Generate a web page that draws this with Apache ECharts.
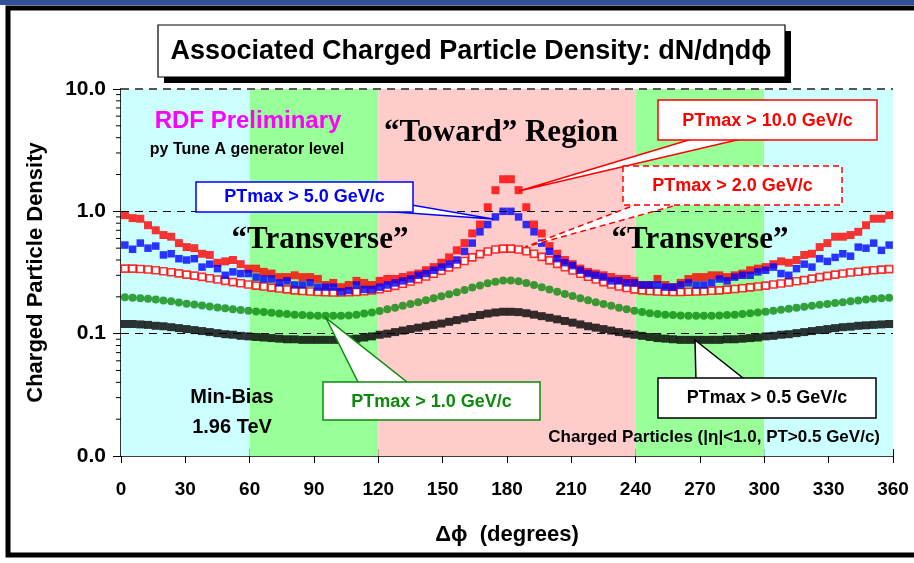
<!DOCTYPE html>
<html>
<head>
<meta charset="utf-8">
<script src="https://cdn.jsdelivr.net/npm/echarts@6/dist/echarts.min.js"></script>
<style>
html,body{margin:0;padding:0;background:#fff;}
#chart{width:914px;height:563px;}
</style>
</head>
<body>
<div id="chart"></div>
<script>
// Bin centres (degrees)
const phi = [1.8,5.4,9,12.6,16.2,19.8,23.4,27,30.6,34.2,37.8,41.4,45,48.6,52.2,55.8,59.4,63,66.6,70.2,
73.8,77.4,81,84.6,88.2,91.8,95.4,99,102.6,106.2,109.8,113.4,117,120.6,124.2,127.8,131.4,135,138.6,142.2,
145.8,149.4,153,156.6,160.2,163.8,167.4,171,174.6,178.2,181.8,185.4,189,192.6,196.2,199.8,203.4,207,210.6,214.2,
217.8,221.4,225,228.6,232.2,235.8,239.4,243,246.6,250.2,253.8,257.4,261,264.6,268.2,271.8,275.4,279,282.6,286.2,
289.8,293.4,297,300.6,304.2,307.8,311.4,315,318.6,322.2,325.8,329.4,333,336.6,340.2,343.8,347.4,351,354.6,358.2];

// PTmax > 0.5 GeV/c (black squares)
const dens05 = [0.120,0.120,0.119,0.118,0.116,0.115,0.113,0.111,0.109,0.107,
0.105,0.103,0.101,0.099,0.098,0.096,0.095,0.094,0.093,0.092,
0.091,0.090,0.090,0.089,0.089,0.089,0.089,0.089,0.089,0.090,
0.091,0.093,0.095,0.098,0.100,0.103,0.106,0.109,0.112,0.115,
0.118,0.121,0.125,0.129,0.133,0.137,0.142,0.146,0.149,0.151,
0.151,0.150,0.147,0.143,0.139,0.135,0.131,0.127,0.123,0.119,
0.115,0.112,0.109,0.106,0.103,0.100,0.098,0.096,0.094,0.092,
0.091,0.090,0.089,0.089,0.089,0.089,0.089,0.089,0.090,0.090,
0.091,0.092,0.093,0.095,0.096,0.098,0.099,0.101,0.103,0.105,
0.107,0.109,0.111,0.113,0.114,0.116,0.117,0.118,0.119,0.120];

// PTmax > 1.0 GeV/c (green dots)
const dens1 = [0.198,0.197,0.195,0.193,0.190,0.187,0.184,0.180,0.176,0.173,
0.170,0.167,0.164,0.161,0.158,0.156,0.154,0.152,0.150,0.148,
0.146,0.145,0.143,0.142,0.141,0.140,0.140,0.140,0.140,0.141,
0.143,0.146,0.149,0.153,0.158,0.163,0.169,0.175,0.181,0.188,
0.195,0.202,0.210,0.218,0.228,0.238,0.248,0.258,0.266,0.272,
0.272,0.268,0.260,0.250,0.240,0.230,0.220,0.211,0.203,0.195,
0.188,0.181,0.175,0.169,0.163,0.158,0.154,0.150,0.147,0.145,
0.143,0.142,0.141,0.140,0.140,0.140,0.140,0.141,0.142,0.143,
0.145,0.147,0.149,0.151,0.154,0.157,0.160,0.163,0.166,0.169,
0.172,0.175,0.178,0.181,0.184,0.187,0.190,0.193,0.195,0.197];

// PTmax > 2.0 GeV/c (red open squares)
const dens2 = [0.340,0.340,0.338,0.335,0.330,0.324,0.318,0.311,0.304,0.298,
0.291,0.284,0.277,0.270,0.264,0.258,0.252,0.247,0.243,0.238,
0.234,0.230,0.226,0.223,0.221,0.219,0.218,0.217,0.217,0.218,
0.219,0.222,0.226,0.231,0.238,0.246,0.256,0.267,0.279,0.293,
0.309,0.327,0.347,0.369,0.393,0.420,0.447,0.470,0.487,0.496,
0.496,0.488,0.472,0.450,0.424,0.397,0.372,0.349,0.328,0.309,
0.292,0.277,0.264,0.252,0.243,0.236,0.230,0.226,0.223,0.221,
0.220,0.219,0.219,0.220,0.221,0.222,0.224,0.226,0.229,0.232,
0.235,0.239,0.243,0.247,0.252,0.257,0.262,0.268,0.274,0.282,
0.290,0.297,0.304,0.310,0.316,0.321,0.326,0.330,0.334,0.337];

// PTmax > 5.0 GeV/c (blue squares)
const dens5 = [0.53,0.49,0.55,0.50,0.52,0.44,0.45,0.41,0.40,0.41,
0.35,0.37,0.34,0.30,0.32,0.31,0.31,0.29,0.28,0.28,
0.26,0.27,0.25,0.25,0.26,0.24,0.24,0.24,0.22,0.225,
0.25,0.23,0.23,0.24,0.25,0.26,0.27,0.28,0.30,0.31,
0.33,0.35,0.37,0.40,0.47,0.55,0.68,0.78,0.90,1.00,
1.00,0.90,0.78,0.68,0.55,0.47,0.41,0.38,0.36,0.33,
0.31,0.30,0.29,0.27,0.27,0.26,0.26,0.25,0.25,0.25,
0.24,0.24,0.25,0.26,0.25,0.25,0.26,0.28,0.27,0.29,
0.30,0.30,0.32,0.33,0.35,0.31,0.30,0.34,0.37,0.35,
0.41,0.39,0.42,0.45,0.43,0.51,0.50,0.55,0.48,0.53];

// PTmax > 10.0 GeV/c (red filled squares)
const dens10 = [0.93,0.88,0.87,0.77,0.70,0.64,0.62,0.55,0.51,0.50,
0.45,0.44,0.38,0.39,0.40,0.37,0.34,0.34,0.32,0.31,
0.29,0.29,0.30,0.29,0.29,0.28,0.25,0.26,0.24,0.25,
0.27,0.26,0.25,0.27,0.28,0.28,0.29,0.30,0.31,0.33,
0.35,0.38,0.42,0.48,0.55,0.66,0.78,1.08,1.49,1.83,
1.83,1.49,1.08,0.78,0.66,0.52,0.45,0.40,0.37,0.34,
0.32,0.31,0.30,0.29,0.28,0.28,0.27,0.25,0.25,0.28,
0.25,0.24,0.26,0.28,0.29,0.29,0.30,0.30,0.29,0.30,
0.31,0.33,0.34,0.35,0.37,0.39,0.38,0.40,0.44,0.45,
0.51,0.55,0.62,0.62,0.64,0.68,0.77,0.87,0.87,0.93];

// Region bands [from, to, colour]
const regions = [[0,60,'#ccffff'],[60,120,'#99ff99'],[120,240,'#ffcccc'],[240,300,'#99ff99'],[300,360,'#ccffff']];
const yMajorTicks = [0.1,1,10];
const yMinorTicks = [0.02,0.03,0.04,0.05,0.06,0.07,0.08,0.09,0.2,0.3,0.4,0.5,0.6,0.7,0.8,0.9,2,3,4,5,6,7,8,9];

const FF = "'Liberation Sans', Arial, sans-serif";
const SERIF = "'Liberation Serif', 'Times New Roman', serif";

function pts(arr){ return phi.map((p,i)=>[p,arr[i]]); }

const chart = echarts.init(document.getElementById('chart'), null, {renderer:'canvas'});

const option = {
  animation:false,
  backgroundColor:'#ffffff',
  grid:{left:121,right:21,top:89,bottom:107},
  xAxis:[{
    type:'value',min:0,max:360,interval:30,
    axisLine:{lineStyle:{color:'#000',width:1.5}},
    axisTick:{length:7,lineStyle:{color:'#000',width:1}},
    axisLabel:{margin:24,color:'#000',fontFamily:FF,fontWeight:'bold',fontSize:19},
    splitLine:{show:false},
    name:'\u0394\u03d5  (degrees)',nameLocation:'middle',nameGap:68,
    nameTextStyle:{color:'#000',fontFamily:FF,fontWeight:'bold',fontSize:22}
  },{
    type:'value',min:0,max:360,interval:30,position:'bottom',
    axisLine:{show:false},axisTick:{show:true,inside:true,length:7,lineStyle:{color:'#000'}},
    axisLabel:{show:false},splitLine:{show:false}
  }],
  yAxis:[{
    type:'log',logBase:10,min:0.01,max:10,
    axisLine:{show:true,lineStyle:{color:'#000',width:1.5}},
    axisTick:{show:true,length:8,lineStyle:{color:'#000'}},
    axisLabel:{margin:15,color:'#000',fontFamily:FF,fontWeight:'bold',fontSize:21,
      formatter:v=>Number(v).toFixed(1)},
    splitLine:{show:false},
    name:'Charged Particle Density',nameLocation:'middle',nameGap:74,nameRotate:90,
    nameTextStyle:{color:'#000',fontFamily:FF,fontWeight:'bold',fontSize:22}
  },{
    type:'log',logBase:10,min:0.01,max:10,position:'right',
    axisLine:{show:true,lineStyle:{color:'#333',width:2}},
    axisTick:{show:false},axisLabel:{show:false},splitLine:{show:false}
  }],
  series:[
    {
      type:'line',data:[],silent:true,
      markArea:{silent:true,data:regions.map(r=>[{xAxis:r[0],itemStyle:{color:r[2]}},{xAxis:r[1]}])},
      markLine:{silent:true,symbol:'none',label:{show:false},
        data:yMajorTicks.map(v=>({yAxis:v,lineStyle:{color:v===10?'#555':'#000',type:[8,6],width:v===10?2:1}}))},
      z:1
    },
    {
      type:'custom',silent:true,clip:false,z:5,
      data:yMinorTicks.map(v=>[0,v]),
      renderItem:function(params,api){
        const p = api.coord([0,api.value(1)]);
        return {type:'line',shape:{x1:p[0]-5,y1:p[1],x2:p[0],y2:p[1]},style:{stroke:'#000',lineWidth:1}};
      }
    },
    {name:'PTmax > 0.5',type:'scatter',symbol:'rect',symbolSize:8,data:pts(dens05),
      itemStyle:{color:'#000'},z:3},
    {name:'PTmax > 1.0',type:'scatter',symbol:'circle',symbolSize:8,data:pts(dens1),
      itemStyle:{color:'#0b8a0b'},z:3},
    {name:'PTmax > 2.0',type:'scatter',symbol:'rect',symbolSize:7,data:pts(dens2),
      itemStyle:{color:'#ffffff',borderColor:'#ff0000',borderWidth:1.6},z:3},
    {name:'PTmax > 10.0',type:'scatter',symbol:'rect',symbolSize:8,data:pts(dens10),
      itemStyle:{color:'#ff0000'},z:3},
    {name:'PTmax > 5.0',type:'scatter',symbol:'rect',symbolSize:7.5,data:pts(dens5),
      itemStyle:{color:'#0000ff'},z:3}
  ],
  graphic:[
    // slide strip + frame
    {type:'rect',shape:{x:0,y:0,width:914,height:5},style:{fill:'#33509a'},z:100},
    {type:'rect',shape:{x:8,y:8,width:1000,height:547},style:{fill:null,stroke:'#000',lineWidth:5},z:100},
    // title box with shadow
    {type:'rect',shape:{x:164,y:31,width:627,height:52},style:{fill:'#000'},z:100},
    {type:'rect',shape:{x:158,y:25,width:627,height:52},style:{fill:'#fff',stroke:'#000',lineWidth:1.2},z:101},
    {type:'text',x:471,y:52,style:{text:'Associated Charged Particle Density: dN/d\u03b7d\u03d5',fill:'#000',
      font:"bold 27px "+FF,textAlign:'center',textVerticalAlign:'middle'},z:102},
    // free texts
    {type:'text',x:248,y:121,style:{text:'RDF Preliminary',fill:'#ff00ff',font:"bold 24px "+FF,textAlign:'center',textVerticalAlign:'middle'},z:50},
    {type:'text',x:247,y:150,style:{text:'py Tune A generator level',fill:'#000',font:"bold 16px "+FF,textAlign:'center',textVerticalAlign:'middle'},z:50},
    {type:'text',x:501,y:133,style:{text:'\u201cToward\u201d Region',fill:'#000',font:"bold 31px "+SERIF,textAlign:'center',textVerticalAlign:'middle'},z:50},
    {type:'text',x:320,y:240,style:{text:'\u201cTransverse\u201d',fill:'#000',font:"bold 31px "+SERIF,textAlign:'center',textVerticalAlign:'middle'},z:50},
    {type:'text',x:700,y:240,style:{text:'\u201cTransverse\u201d',fill:'#000',font:"bold 31px "+SERIF,textAlign:'center',textVerticalAlign:'middle'},z:50},
    {type:'text',x:232,y:397,style:{text:'Min-Bias',fill:'#000',font:"bold 20px "+FF,textAlign:'center',textVerticalAlign:'middle'},z:50},
    {type:'text',x:232,y:427,style:{text:'1.96 TeV',fill:'#000',font:"bold 20px "+FF,textAlign:'center',textVerticalAlign:'middle'},z:50},
    {type:'text',x:880,y:437,style:{text:'Charged Particles (|\u03b7|<1.0, PT>0.5 GeV/c)',fill:'#000',font:"bold 17px "+FF,textAlign:'right',textVerticalAlign:'middle'},z:50},
    // callout: PTmax > 5.0
    {type:'polygon',shape:{points:[[400,203],[380,211],[493,219]]},style:{fill:'#fff',stroke:'#0000ff',lineWidth:1.5},z:60},
    {type:'rect',shape:{x:196,y:182,width:217,height:30},style:{fill:'#fff',stroke:'#0000ff',lineWidth:1.5},z:61},
    {type:'text',x:304.5,y:197,style:{text:'PTmax > 5.0 GeV/c',fill:'#0000ff',font:"bold 18px "+FF,textAlign:'center',textVerticalAlign:'middle'},z:62},
    // callout: PTmax > 10.0
    {type:'polygon',shape:{points:[[702,136],[754,136],[519,191]]},style:{fill:'#fff',stroke:'#ff0000',lineWidth:1.5},z:60},
    {type:'rect',shape:{x:658,y:100,width:219,height:40},style:{fill:'#fff',stroke:'#ff0000',lineWidth:1.5},z:61},
    {type:'text',x:767.5,y:121,style:{text:'PTmax > 10.0 GeV/c',fill:'#ff0000',font:"bold 18px "+FF,textAlign:'center',textVerticalAlign:'middle'},z:62},
    // callout: PTmax > 2.0 (dashed)
    {type:'polygon',shape:{points:[[648,200],[695,200],[525,247]]},style:{fill:'#fff',stroke:'#ff0000',lineWidth:1.5,lineDash:[6,4]},z:60},
    {type:'rect',shape:{x:623,y:166,width:219,height:39},style:{fill:'#fff',stroke:'#ff0000',lineWidth:1.5,lineDash:[6,4]},z:61},
    {type:'text',x:732.5,y:186,style:{text:'PTmax > 2.0 GeV/c',fill:'#ff0000',font:"bold 18px "+FF,textAlign:'center',textVerticalAlign:'middle'},z:62},
    // callout: PTmax > 1.0
    {type:'polygon',shape:{points:[[360,386],[412,386],[326,318]]},style:{fill:'#fff',stroke:'#0b8a0b',lineWidth:1.5},z:60},
    {type:'rect',shape:{x:323,y:382,width:217,height:38},style:{fill:'#fff',stroke:'#0b8a0b',lineWidth:1.5},z:61},
    {type:'text',x:431.5,y:402,style:{text:'PTmax > 1.0 GeV/c',fill:'#0b8a0b',font:"bold 18px "+FF,textAlign:'center',textVerticalAlign:'middle'},z:62},
    // callout: PTmax > 0.5
    {type:'polygon',shape:{points:[[696,382],[748,382],[695,340]]},style:{fill:'#fff',stroke:'#000',lineWidth:1.5},z:60},
    {type:'rect',shape:{x:658,y:378,width:218,height:40},style:{fill:'#fff',stroke:'#000',lineWidth:1.5},z:61},
    {type:'text',x:767,y:398,style:{text:'PTmax > 0.5 GeV/c',fill:'#000',font:"bold 18px "+FF,textAlign:'center',textVerticalAlign:'middle'},z:62}
  ]
};
chart.setOption(option);
</script>
</body>
</html>
